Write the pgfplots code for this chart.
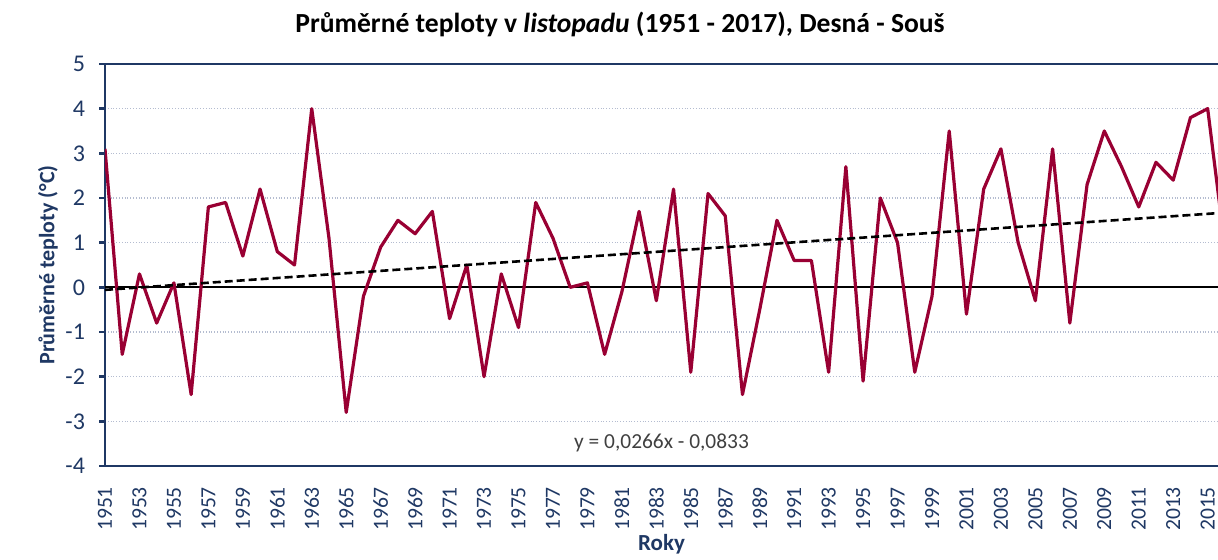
\documentclass[border=0pt]{standalone}
\usepackage{pgfplots}
\pgfplotsset{compat=1.18}
\usepackage{pgfplotstable}
\usepackage{fontspec}
\setmainfont{Carlito}
\definecolor{navy}{HTML}{1F3864}
\definecolor{crimson}{HTML}{990033}
\definecolor{gridc}{HTML}{B4BCD0}
\definecolor{eqc}{HTML}{404040}

\pgfplotstableread{
year value
1951 3.1
1952 -1.5
1953 0.3
1954 -0.8
1955 0.1
1956 -2.4
1957 1.8
1958 1.9
1959 0.7
1960 2.2
1961 0.8
1962 0.5
1963 4.0
1964 1.1
1965 -2.8
1966 -0.2
1967 0.9
1968 1.5
1969 1.2
1970 1.7
1971 -0.7
1972 0.5
1973 -2.0
1974 0.3
1975 -0.9
1976 1.9
1977 1.1
1978 0.0
1979 0.1
1980 -1.5
1981 -0.1
1982 1.7
1983 -0.3
1984 2.2
1985 -1.9
1986 2.1
1987 1.6
1988 -2.4
1989 -0.5
1990 1.5
1991 0.6
1992 0.6
1993 -1.9
1994 2.7
1995 -2.1
1996 2.0
1997 1.0
1998 -1.9
1999 -0.2
2000 3.5
2001 -0.6
2002 2.2
2003 3.1
2004 1.0
2005 -0.3
2006 3.1
2007 -0.8
2008 2.3
2009 3.5
2010 2.7
2011 1.8
2012 2.8
2013 2.4
2014 3.8
2015 4.0
2016 0.9
2017 2.0
}\datatable

\begin{document}
\begin{tikzpicture}
\begin{axis}[
  scale only axis,
  width=556.5pt, height=201pt,
  xmin=1951, xmax=2015.6,
  ymin=-4, ymax=5,
  axis x line=box, axis y line=left,
  x axis line style={navy, line width=0.8pt, -},
  y axis line style={navy, line width=1.3pt, -},
  clip mode=individual,
  xtick={1951,1953,...,2015},
  ytick={-4,-3,...,5},
  major x tick style={draw=none},
  major y tick style={navy, line width=1.2pt},
  ytick align=outside,
  major tick length=3pt,
  ymajorgrids,
  grid style={gridc, densely dotted, line width=0.6pt},
  /pgf/number format/assume math mode=true,
  yticklabel style={font=\fontsize{12}{14}\selectfont, text=navy, xshift=-3.5pt},
  xticklabel style={font=\fontsize{10.8}{13}\selectfont, text=navy, yshift=-7pt, rotate=90, anchor=east},
  xticklabel={\pgfmathprintnumber[1000 sep={}]{\tick}},
  xlabel={\bfseries Roky},
  xlabel style={font=\fontsize{11.5}{13}\selectfont, text=navy, at={(axis description cs:0.5,0)}, anchor=base, yshift=-42.5pt},
  ylabel={\bfseries Průměrné teploty (°C)},
  ylabel style={font=\fontsize{11}{13}\selectfont, text=navy, at={(axis description cs:-0.0512,0.5)}, anchor=center},
]
\addplot[black, line width=1pt, forget plot] coordinates {(1950,0) (2018,0)};
\addplot[crimson, line width=1.6pt, line join=round] table[x=year, y=value] {\datatable};
\addplot[black, line width=1.3pt, dash pattern=on 4pt off 2pt] coordinates {(1951,-0.0567) (2017,1.6989)};
\node[font=\fontsize{10.7}{12}\selectfont, text=eqc] at (axis cs:1983.3,-3.49) {y = 0,0266x - 0,0833};
\node[font=\fontsize{13.8}{16}\selectfont\bfseries, anchor=base] at (rel axis cs:0.4627,1) [yshift=15.5pt] {Průměrné teploty v \textit{listopadu} (1951 - 2017), Desná - Souš};
\end{axis}
\pgfresetboundingbox
\path[use as bounding box] (current axis.south west) ++(-52.5pt,-47pt) rectangle ([yshift=32pt]current axis.north east);
\end{tikzpicture}
\end{document}
